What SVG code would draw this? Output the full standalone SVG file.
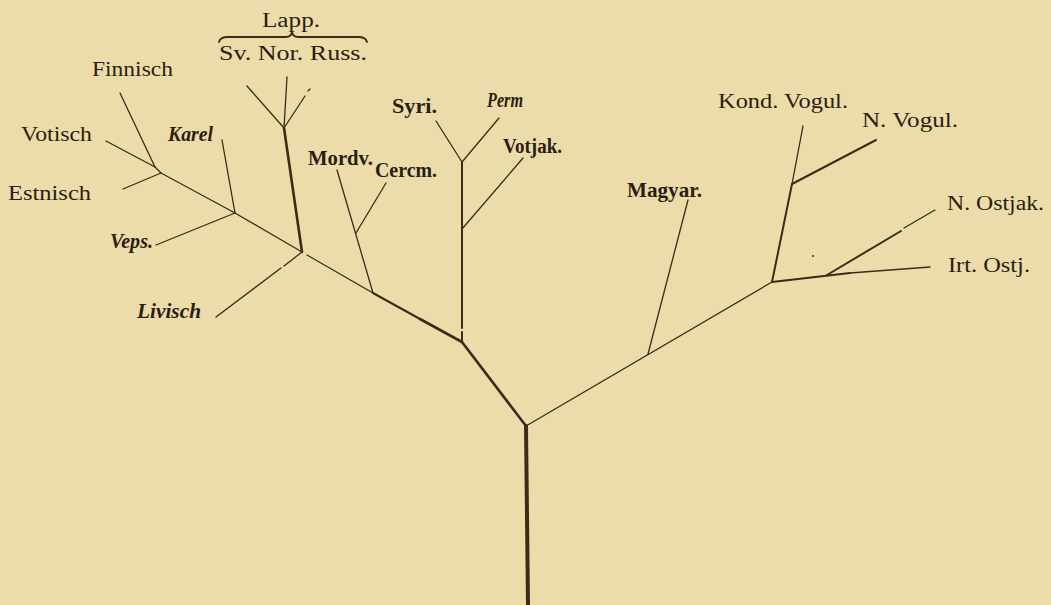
<svg xmlns="http://www.w3.org/2000/svg" width="1051" height="605" viewBox="0 0 1051 605">
<style>
.bg{fill:#ECDCAA}
.l{stroke:#3b2b17;fill:none;stroke-linecap:round;stroke-linejoin:round}
.t1{stroke-width:1.3}
.t2{stroke-width:2}
.t3{stroke-width:2.6}
.t4{stroke-width:4}
text{font-family:"Liberation Serif","Times New Roman",serif;fill:#2a1f10;font-size:20px}
.b{font-weight:bold}
.i{font-style:italic}
</style>
<rect class="bg" x="0" y="0" width="1051" height="605"/>
<g id="connectors">
<line class="l t4" x1="526" y1="426" x2="528" y2="605"/>
<line class="l t3" x1="526" y1="426" x2="462" y2="342"/>
<line class="l t3" x1="462" y1="342" x2="420" y2="319"/>
<line class="l t2" x1="420" y1="319" x2="373" y2="293"/>
<line class="l t1" x1="373" y1="293" x2="307" y2="255"/>
<line class="l t1" x1="302" y1="252" x2="235" y2="213"/>
<line class="l t1" x1="235" y1="213" x2="161" y2="173"/>
<line class="l t1" x1="161" y1="173" x2="155" y2="167"/>
<line class="l t1" x1="155" y1="167" x2="120" y2="93"/>
<line class="l t1" x1="155" y1="167" x2="106" y2="141"/>
<line class="l t1" x1="161" y1="173" x2="123" y2="189"/>
<line class="l t1" x1="235" y1="213" x2="222" y2="140"/>
<line class="l t1" x1="235" y1="213" x2="156" y2="245"/>
<line class="l t1" x1="302" y1="252" x2="284" y2="266"/>
<line class="l t1" x1="281" y1="268" x2="216" y2="317"/>
<line class="l t3" x1="302" y1="252" x2="284" y2="128"/>
<line class="l t1" x1="284" y1="128" x2="247" y2="86"/>
<line class="l t1" x1="284" y1="128" x2="287" y2="77"/>
<line class="l t1" x1="284" y1="128" x2="305" y2="96"/>
<line class="l t1" x1="308" y1="91" x2="310" y2="89"/>
<line class="l t1" x1="373" y1="293" x2="337" y2="170"/>
<line class="l t1" x1="356" y1="233" x2="386" y2="183"/>
<line class="l t2" x1="462" y1="342" x2="462" y2="332"/>
<line class="l t2" x1="462" y1="328" x2="462" y2="162"/>
<line class="l t1" x1="462" y1="162" x2="436" y2="121"/>
<line class="l t1" x1="462" y1="162" x2="499" y2="118"/>
<line class="l t1" x1="462" y1="229" x2="523" y2="158"/>
<line class="l t1" x1="526" y1="426" x2="772" y2="282"/>
<line class="l t1" x1="648" y1="354" x2="688" y2="200"/>
<line class="l t2" x1="772" y1="282" x2="792" y2="184"/>
<line class="l t1" x1="792" y1="184" x2="803" y2="126"/>
<line class="l t2" x1="792" y1="184" x2="876" y2="140"/>
<line class="l t2" x1="772" y1="282" x2="850" y2="273"/>
<line class="l t1" x1="850" y1="273" x2="930" y2="267"/>
<line class="l t2" x1="827" y1="275" x2="901" y2="231"/>
<line class="l t1" x1="904" y1="228" x2="935" y2="210"/>
<circle cx="813" cy="256" r="1" fill="#3b2b17"/>
<path class="l" d="M219,42 Q220,37 228,37 L286,37 Q291,37 292,32 Q293,37 298,37 L358,37 Q366,37 367,42" stroke-width="1.8"/>
</g>
<g id="n-lapp"><text x="262" y="27" textLength="58" lengthAdjust="spacingAndGlyphs">Lapp.</text></g>
<g id="n-lapp-sub"><text x="219" y="60" textLength="148" lengthAdjust="spacingAndGlyphs">Sv. Nor. Russ.</text></g>
<g id="n-finnisch"><text x="92" y="76" textLength="81" lengthAdjust="spacingAndGlyphs">Finnisch</text></g>
<g id="n-votisch"><text x="21" y="141" textLength="71" lengthAdjust="spacingAndGlyphs">Votisch</text></g>
<g id="n-estnisch"><text x="8" y="200" textLength="83" lengthAdjust="spacingAndGlyphs">Estnisch</text></g>
<g id="n-karel"><text class="b i" x="168" y="141" textLength="45" lengthAdjust="spacingAndGlyphs">Karel</text></g>
<g id="n-veps"><text class="b i" x="110" y="248" font-size="15" textLength="43" lengthAdjust="spacingAndGlyphs">Veps.</text></g>
<g id="n-livisch"><text class="b i" x="137" y="318" textLength="64" lengthAdjust="spacingAndGlyphs">Livisch</text></g>
<g id="n-mordv"><text class="b" x="308" y="165" textLength="65" lengthAdjust="spacingAndGlyphs">Mordv.</text></g>
<g id="n-cercm"><text class="b" x="375" y="177" textLength="62" lengthAdjust="spacingAndGlyphs">Cercm.</text></g>
<g id="n-syri"><text class="b" x="392" y="113" textLength="45" lengthAdjust="spacingAndGlyphs">Syri.</text></g>
<g id="n-perm"><text class="b i" x="487" y="107" font-size="17" textLength="36" lengthAdjust="spacingAndGlyphs">Perm</text></g>
<g id="n-votjak"><text class="b" x="503" y="153" font-size="19" textLength="59" lengthAdjust="spacingAndGlyphs">Votjak.</text></g>
<g id="n-magyar"><text class="b" x="627" y="197" textLength="75" lengthAdjust="spacingAndGlyphs">Magyar.</text></g>
<g id="n-kond-vogul"><text x="718" y="108" textLength="130" lengthAdjust="spacingAndGlyphs">Kond. Vogul.</text></g>
<g id="n-n-vogul"><text x="862" y="127" textLength="96" lengthAdjust="spacingAndGlyphs">N.  Vogul.</text></g>
<g id="n-n-ostjak"><text x="947" y="210" textLength="97" lengthAdjust="spacingAndGlyphs">N. Ostjak.</text></g>
<g id="n-irt-ostj"><text x="948" y="272" textLength="82" lengthAdjust="spacingAndGlyphs">Irt. Ostj.</text></g>
</svg>
